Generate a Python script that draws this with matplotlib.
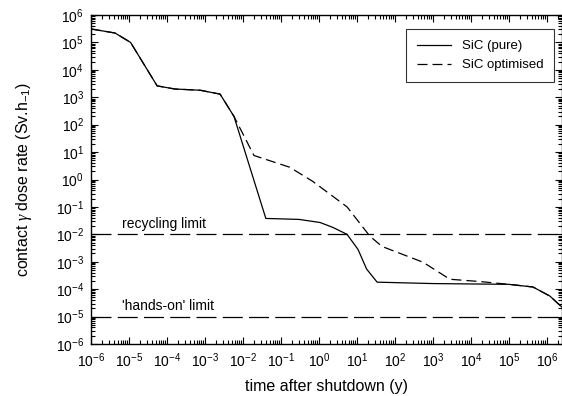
import matplotlib.pyplot as plt
import numpy as np
from matplotlib.ticker import LogLocator, NullFormatter

plt.rcParams['font.family'] = 'Liberation Sans'
plt.rcParams['mathtext.fontset'] = 'custom'
plt.rcParams['mathtext.rm'] = 'Liberation Sans'
plt.rcParams['mathtext.it'] = 'Liberation Serif:italic'

## data
# -------------------------------------------------------------
t_pure = [1e-6, 4.3e-6, 1.1e-5, 5.5e-5, 1.6e-4, 7.5e-4, 2.5e-3, 5.8e-3,
          0.04, 0.3, 1.07, 2.3, 5.5, 10.7, 18.0, 34.0, 1e3, 1e5, 4.3e5, 1.2e6, 2.5e6]
d_pure = [3.1e5, 2.2e5, 1.0e5, 2.6e3, 2.0e3, 1.8e3, 1.3e3, 2.0e2,
          0.038, 0.035, 0.027, 0.018, 0.010, 2.8e-3, 5.4e-4, 1.8e-4, 1.6e-4, 1.5e-4, 1.2e-4, 5.6e-5, 2.2e-5]

t_opt = [1e-6, 4.3e-6, 1.1e-5, 5.5e-5, 1.6e-4, 7.5e-4, 2.5e-3, 5.8e-3,
         0.0195, 0.17, 0.69, 5.5, 22.0, 46.0, 550.0, 2.8e3, 1.7e4, 1e5, 4.3e5, 1.2e6, 2.5e6]
d_opt = [3.1e5, 2.2e5, 1.0e5, 2.6e3, 2.0e3, 1.8e3, 1.3e3, 2.0e2,
         7.5, 2.8, 0.85, 0.1, 8.5e-3, 3.6e-3, 9.6e-4, 2.3e-4, 1.9e-4, 1.5e-4, 1.2e-4, 5.6e-5, 2.2e-5]

recycling_limit = 1e-2
hands_on_limit = 1e-5
# -------------------------------------------------------------


fig = plt.figure(figsize=(5.62, 3.96), dpi=100)
ax = fig.add_axes([91/562, 1-344/396, 471/562, 329/396])

ax.plot(t_pure, d_pure, '-', color='black', linewidth=0.9, label='SiC (pure)')
ax.plot(t_opt, d_opt, '--', color='black', linewidth=0.9, dashes=(8, 4), label='SiC optimised')

ax.axhline(recycling_limit, color='black', linewidth=0.9, dashes=(16, 5))
ax.axhline(hands_on_limit, color='black', linewidth=0.9, dashes=(16, 5))
ax.text(6.6e-6, recycling_limit*1.3, 'recycling limit', fontsize=10, va='bottom')
ax.text(6.6e-6, hands_on_limit*1.3, "'hands-on' limit", fontsize=10, va='bottom')

ax.set_xscale('log')
ax.set_yscale('log')
ax.set_xlim(1e-6, 2.5e6)
ax.set_ylim(1e-6, 1e6)

for axis in (ax.xaxis, ax.yaxis):
    axis.set_major_locator(LogLocator(base=10, numticks=30))
    axis.set_minor_locator(LogLocator(base=10, subs=np.arange(2, 10), numticks=30))
    axis.set_minor_formatter(NullFormatter())
ax.tick_params(which='both', direction='in', top=True, right=True, labelsize=10, width=0.8)
ax.tick_params(which='major', length=5, pad=5)
ax.tick_params(which='minor', length=3)
for s in ax.spines.values():
    s.set_linewidth(1.0)

ax.set_xlabel('time after shutdown (y)', fontsize=11.5, labelpad=7)
ax.set_ylabel(r'contact $\gamma$ dose rate (Sv.h$_{-1}$)', fontsize=11.5, labelpad=16)

leg = ax.legend(loc='upper right', fontsize=9.5, frameon=True, fancybox=False,
                edgecolor='black', handlelength=2.6, borderpad=0.8,
                bbox_to_anchor=(0.997, 0.976))
leg.get_frame().set_linewidth(0.8)

fig.savefig('out.png', dpi=100)
